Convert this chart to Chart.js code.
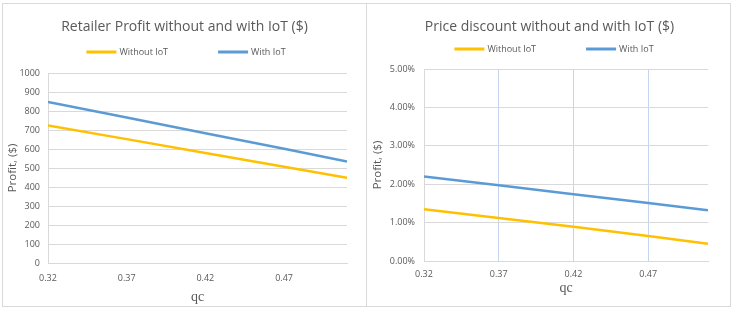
<!DOCTYPE html>
<html>
<head>
<meta charset="utf-8">
<script src="https://cdn.jsdelivr.net/npm/chart.js@4"></script>
<style>
  html, body { margin: 0; padding: 0; background: #fff; }
  #wrap {
    position: absolute; left: 2px; top: 3px; width: 729px; height: 304px;
    border: 1px solid #d9d9d9; box-sizing: border-box;
  }
  #divider { position: absolute; left: 366px; top: 3px; width: 1px; height: 304px; background: #d9d9d9; }
  .panel { position: absolute; top: 3px; height: 304px; }
  #p1 { left: 3px; width: 363px; }
  #p2 { left: 368px; width: 363px; }
</style>
</head>
<body>
<div id="wrap"></div>
<div id="divider"></div>
<div class="panel" id="p1"><canvas id="c1"></canvas></div>
<div class="panel" id="p2"><canvas id="c2"></canvas></div>
<script>
const qc = [0.32, 0.37, 0.42, 0.47, 0.51];
const xTicks = [0.32, 0.37, 0.42, 0.47];

const profitWithout = [724, 652, 579, 507, 449];
const profitWith = [848, 766, 683, 601, 534];

const discountWithout = [0.0135, 0.0112, 0.0089, 0.0065, 0.0045];
const discountWith = [0.0220, 0.0197, 0.0174, 0.0151, 0.0132];

const textColor = "#595959";
const gridColor = "#d9d9d9";
const yellow = "#ffc000";
const blue = "#5b9bd5";
const baseFont = "'Open Sans'";

function pts(vals) {
    return qc.map((x, i) => ({ x: x, y: vals[i] }));
}

// Excel-style legend: one row, wide gap between the entries
const rowLegend = {
    id: "rowLegend",
    afterDraw(chart, args, opts) {
        const ctx = chart.ctx;
        const sets = chart.data.datasets;
        const boxW = 30, gap = 3, itemGap = 50;
        ctx.save();
        ctx.font = "9px " + baseFont;
        let total = 0;
        sets.forEach((ds, i) => {
            total += boxW + gap + ctx.measureText(ds.label).width;
            if (i > 0) total += itemGap;
        });
        let x = opts.cx - total / 2;
        const y = opts.y;
        sets.forEach(ds => {
            ctx.strokeStyle = ds.borderColor;
            ctx.lineWidth = 3;
            ctx.beginPath();
            ctx.moveTo(x, y);
            ctx.lineTo(x + boxW, y);
            ctx.stroke();
            x += boxW + gap;
            ctx.fillStyle = textColor;
            ctx.textBaseline = "middle";
            ctx.textAlign = "left";
            ctx.fillText(ds.label, x, y);
            x += ctx.measureText(ds.label).width + itemGap;
        });
        ctx.restore();
    }
};

function makeChart(id, title, without, withIot, o, vGrid) {
    const ctx = document.getElementById(id);
    return new Chart(ctx, {
        type: "line",
        data: {
            datasets: [
                { label: "Without IoT", data: pts(without), borderColor: yellow, backgroundColor: yellow, borderWidth: 2.5, pointRadius: 0 },
                { label: "With IoT", data: pts(withIot), borderColor: blue, backgroundColor: blue, borderWidth: 2.5, pointRadius: 0 }
            ]
        },
        plugins: [rowLegend],
        options: {
            responsive: true,
            maintainAspectRatio: false,
            animation: false,
            layout: { padding: 0 },
            plugins: {
                title: {
                    display: true,
                    text: title,
                    color: textColor,
                    font: { family: baseFont, size: 14, weight: "normal" },
                    padding: { top: 15.6, bottom: o.titleBottom }
                },
                legend: { display: false },
                rowLegend: { y: o.legendY, cx: o.legendX },
                tooltip: { enabled: false }
            },
            scales: {
                x: {
                    type: "linear",
                    min: 0.32,
                    max: 0.51,
                    afterBuildTicks: scale => { scale.ticks = xTicks.map(v => ({ value: v })); },
                    afterFit: scale => { scale.height = o.xHeight; },
                    ticks: {
                        color: textColor,
                        font: { family: baseFont, size: 9 },
                        padding: o.xTickPad,
                        maxRotation: 0,
                        callback: v => v.toFixed(2)
                    },
                    grid: {
                        display: vGrid,
                        drawTicks: false,
                        color: c => (c.tick && c.tick.value === 0.32) ? gridColor : "#c5d5ee"
                    },
                    border: { display: true, color: gridColor },
                    title: {
                        display: true,
                        text: "qc",
                        color: textColor,
                        font: { family: "'Liberation Serif'", size: 14 },
                        padding: { top: 0, bottom: o.qcPad }
                    }
                },
                y: {
                    min: 0,
                    max: o.max,
                    afterFit: scale => { scale.width = o.yWidth; },
                    ticks: {
                        stepSize: o.step,
                        color: textColor,
                        font: { family: baseFont, size: 9 },
                        padding: o.yTickPad,
                        callback: o.fmt
                    },
                    grid: { color: gridColor, drawTicks: false },
                    border: { display: true, color: gridColor },
                    title: {
                        display: true,
                        text: "Profit, ($)",
                        color: textColor,
                        font: { family: baseFont, size: 11.5 },
                        padding: { top: 3, bottom: 0 }
                    }
                },
                // empty right-hand strip so the plot ends where the reference does
                spacer: {
                    type: "linear",
                    position: "right",
                    afterFit: scale => { scale.width = o.right; },
                    ticks: { display: false },
                    grid: { display: false },
                    border: { display: false }
                }
            }
        }
    });
}

makeChart("c1", "Retailer Profit without and with IoT ($)", profitWithout, profitWith,
    { max: 1000, step: 100, fmt: v => v, yWidth: 45, xHeight: 44, right: 19,
      qcPad: 1, xTickPad: 10, yTickPad: 8, titleBottom: 37.6, legendY: 49, legendX: 183 }, false);

makeChart("c2", "Price discount without and with IoT ($)", discountWithout, discountWith,
    { max: 0.05, step: 0.01, fmt: v => (v * 100).toFixed(2) + "%", yWidth: 56, xHeight: 46, right: 23,
      qcPad: 10, xTickPad: 8, yTickPad: 9, titleBottom: 33.6, legendY: 46, legendX: 186 }, true);
</script>
</body>
</html>
